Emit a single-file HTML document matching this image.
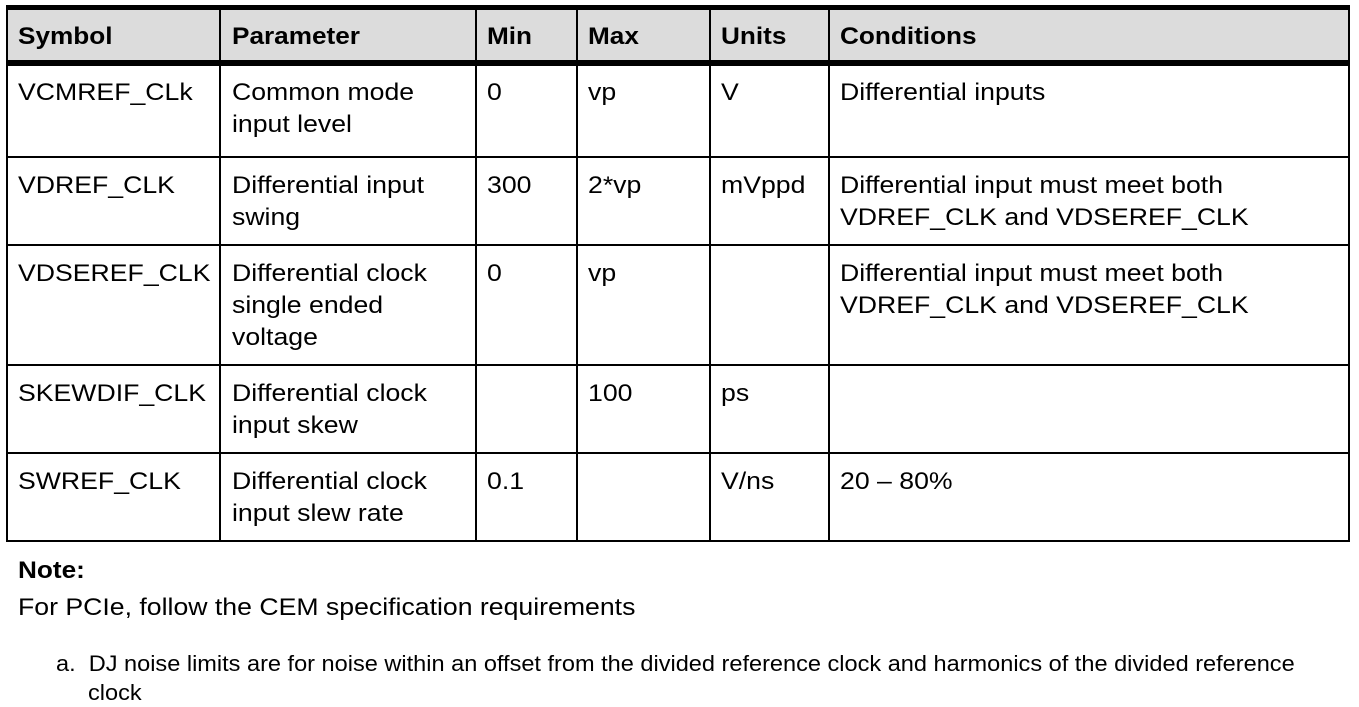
<!DOCTYPE html>
<html><head><style>
body{margin:0;width:1359px;height:707px;background:#fff;position:relative;font-family:"Liberation Sans",Arial,sans-serif;color:#000;overflow:hidden}
.h{position:absolute;background:#000}
.t{position:absolute;font-size:24px;line-height:32px;white-space:nowrap;transform:scaleX(1.11);transform-origin:0 0}
.b{font-weight:bold;transform:scaleX(1.09)}
</style></head><body>
<div style="position:absolute;left:7px;top:9px;width:1342px;height:52px;background:#dcdcdc"></div>
<div class="h" style="left:6px;top:5px;width:1344px;height:5px"></div>
<div class="h" style="left:6px;top:60px;width:1344px;height:6px"></div>
<div class="h" style="left:6px;top:156px;width:1344px;height:2px"></div>
<div class="h" style="left:6px;top:244px;width:1344px;height:2px"></div>
<div class="h" style="left:6px;top:364px;width:1344px;height:2px"></div>
<div class="h" style="left:6px;top:452px;width:1344px;height:2px"></div>
<div class="h" style="left:6px;top:540px;width:1344px;height:2px"></div>
<div class="h" style="left:6px;top:5px;width:2px;height:537px"></div>
<div class="h" style="left:219px;top:5px;width:2px;height:537px"></div>
<div class="h" style="left:475px;top:5px;width:2px;height:537px"></div>
<div class="h" style="left:576px;top:5px;width:2px;height:537px"></div>
<div class="h" style="left:709px;top:5px;width:2px;height:537px"></div>
<div class="h" style="left:828px;top:5px;width:2px;height:537px"></div>
<div class="h" style="left:1348px;top:5px;width:2px;height:537px"></div>

<div class="t b" style="left:18px;top:21px">Symbol</div>
<div class="t b" style="left:232px;top:21px">Parameter</div>
<div class="t b" style="left:487px;top:21px">Min</div>
<div class="t b" style="left:588px;top:21px">Max</div>
<div class="t b" style="left:721px;top:21px">Units</div>
<div class="t b" style="left:840px;top:21px">Conditions</div>

<div class="t" style="left:18px;top:77px">VCMREF_CLk</div>
<div class="t" style="left:232px;top:77px">Common mode<br>input level</div>
<div class="t" style="left:487px;top:77px">0</div>
<div class="t" style="left:588px;top:77px">vp</div>
<div class="t" style="left:721px;top:77px">V</div>
<div class="t" style="left:840px;top:77px">Differential inputs</div>

<div class="t" style="left:18px;top:170px">VDREF_CLK</div>
<div class="t" style="left:232px;top:170px">Differential input<br>swing</div>
<div class="t" style="left:487px;top:170px">300</div>
<div class="t" style="left:588px;top:170px">2*vp</div>
<div class="t" style="left:721px;top:170px">mVppd</div>
<div class="t" style="left:840px;top:170px">Differential input must meet both<br>VDREF_CLK and VDSEREF_CLK</div>

<div class="t" style="left:18px;top:258px">VDSEREF_CLK</div>
<div class="t" style="left:232px;top:258px">Differential clock<br>single ended<br>voltage</div>
<div class="t" style="left:487px;top:258px">0</div>
<div class="t" style="left:588px;top:258px">vp</div>
<div class="t" style="left:840px;top:258px">Differential input must meet both<br>VDREF_CLK and VDSEREF_CLK</div>

<div class="t" style="left:18px;top:378px">SKEWDIF_CLK</div>
<div class="t" style="left:232px;top:378px">Differential clock<br>input skew</div>
<div class="t" style="left:588px;top:378px">100</div>
<div class="t" style="left:721px;top:378px">ps</div>

<div class="t" style="left:18px;top:466px">SWREF_CLK</div>
<div class="t" style="left:232px;top:466px">Differential clock<br>input slew rate</div>
<div class="t" style="left:487px;top:466px">0.1</div>
<div class="t" style="left:721px;top:466px">V/ns</div>
<div class="t" style="left:840px;top:466px">20 – 80%</div>

<div class="t b" style="left:18px;top:555px">Note:</div>
<div class="t" style="left:18px;top:592px">For PCIe, follow the CEM specification requirements</div>
<div class="t" style="left:56px;top:649px;font-size:22px;line-height:29px;transform:scaleX(1.07)">a.&nbsp; DJ noise limits are for noise within an offset from the divided reference clock and harmonics of the divided reference</div>
<div class="t" style="left:88px;top:678px;font-size:22px;line-height:29px;transform:scaleX(1.07)">clock</div>
</body></html>
